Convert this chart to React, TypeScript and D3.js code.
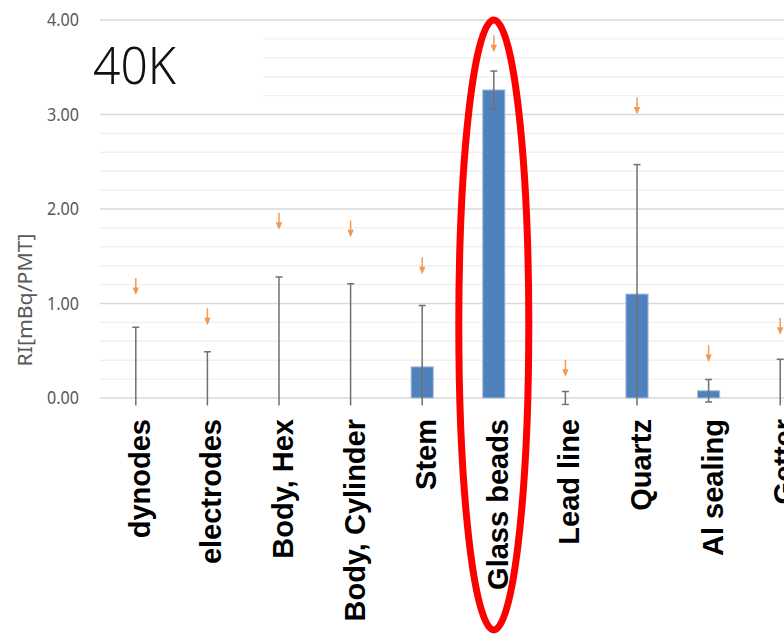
import * as d3 from "d3";

const categories = ["dynodes", "electrodes", "Body, Hex", "Body, Cylinder", "Stem", "Glass beads", "Lead line", "Quartz", "Al sealing", "Getter"];
const measured = [0, 0, 0, 0, 0.33, 3.26, 0, 1.1, 0.077, 0];
const errors = [0.75, 0.49, 1.28, 1.21, 0.65, 0.2, 0.07, 1.37, 0.12, 0.41];
const upperLimits = [1.09, 0.77, 1.78, 1.7, 1.31, 3.66, 0.225, 3.0, 0.38, 0.67];
const yTicks = [0, 1, 2, 3, 4];
const minorTicks = d3.range(0, 4.001, 0.2).map((v) => +v.toFixed(1)).filter((v) => !yTicks.includes(v));

const W = 784;
const H = 634;

export default function App() {
  const x = d3.scaleBand().domain(categories).range([100, 816]).padding(0);
  const y = d3.scaleLinear().domain([0, 4]).range([398, 20]);
  const cx = (c: string) => x(c)! + x.bandwidth() / 2;
  const barW = x.step() * 0.31;
  const arrowLen = 17;

  return (
    <svg width={W} height={H} style={{ position: "absolute", left: 0, top: 0, background: "#fff" }}>
      <defs>
        <clipPath id="errClip">
          <rect x={0} y={0} width={W} height={y(0) + 7.5} />
        </clipPath>
      </defs>
      <g>
        {minorTicks.map((t) => (
          <line key={"m" + t} x1={100} x2={W} y1={y(t)} y2={y(t)} stroke="#efefef" strokeWidth={1.4} />
        ))}
        {yTicks.map((t) => (
          <line key={"g" + t} x1={100} x2={W} y1={y(t)} y2={y(t)} stroke="#d9d9d9" strokeWidth={1.4} />
        ))}
      </g>
      {/* white box behind the 40K label */}
      <rect x={100} y={22} width={163} height={83} fill="#fff" />
      <text x={93} y={84} fontFamily="Noto Sans, sans-serif" fontWeight={300} fontSize={52} textLength={83} lengthAdjust="spacingAndGlyphs" fill="#111">
        40K
      </text>

      {yTicks.map((t) => (
        <text key={"t" + t} x={79} y={y(t)} dy="0.36em" textAnchor="end" fontFamily="Noto Sans, sans-serif" fontSize={18} textLength={32} lengthAdjust="spacingAndGlyphs" fill="#595959">
          {t.toFixed(2)}
        </text>
      ))}
      <text transform="translate(32,300) rotate(-90)" textAnchor="middle" fontFamily="Noto Sans, sans-serif" fontSize={19} textLength={133} lengthAdjust="spacingAndGlyphs" fill="#595959">
        RI[mBq/PMT]
      </text>

      {categories.map((c, i) =>
        measured[i] > 0 ? (
          <rect key={"b" + c} x={cx(c) - barW / 2} y={y(measured[i])} width={barW} height={y(0) - y(measured[i])} fill="#4f81bd" stroke="#a9c1e0" strokeWidth={1} />
        ) : null
      )}

      <g clipPath="url(#errClip)" stroke="#707070" strokeWidth={1.5}>
        {categories.map((c, i) => {
          const hi = y(measured[i] + errors[i]);
          const lo = y(measured[i] - errors[i]);
          const px = cx(c);
          return (
            <g key={"e" + c}>
              <line x1={px} x2={px} y1={hi} y2={lo} />
              <line x1={px - 3.5} x2={px + 3.5} y1={hi} y2={hi} />
              <line x1={px - 3.5} x2={px + 3.5} y1={lo} y2={lo} />
            </g>
          );
        })}
      </g>

      <g>
        {categories.map((c, i) => {
          const tip = y(upperLimits[i]);
          const px = cx(c);
          return (
            <g key={"a" + c}>
              <line x1={px} x2={px} y1={tip - arrowLen} y2={tip - 5} stroke="#f59a55" strokeWidth={1.5} />
              <path d={`M${px - 3.2},${tip - 7.5}L${px + 3.2},${tip - 7.5}L${px},${tip}Z`} fill="#f4974f" />
            </g>
          );
        })}
      </g>

      {categories.map((c) => (
        <text key={"l" + c} transform={`translate(${cx(c) + 14},419) rotate(-90)`} textAnchor="end" fontFamily="Liberation Sans, Arial, sans-serif" fontWeight="bold" fontSize={29} fill="#000">
          {c}
        </text>
      ))}

      <ellipse cx={cx("Glass beads")} cy={325} rx={35} ry={305} fill="none" stroke="#ff0000" strokeWidth={7} />
    </svg>
  );
}
